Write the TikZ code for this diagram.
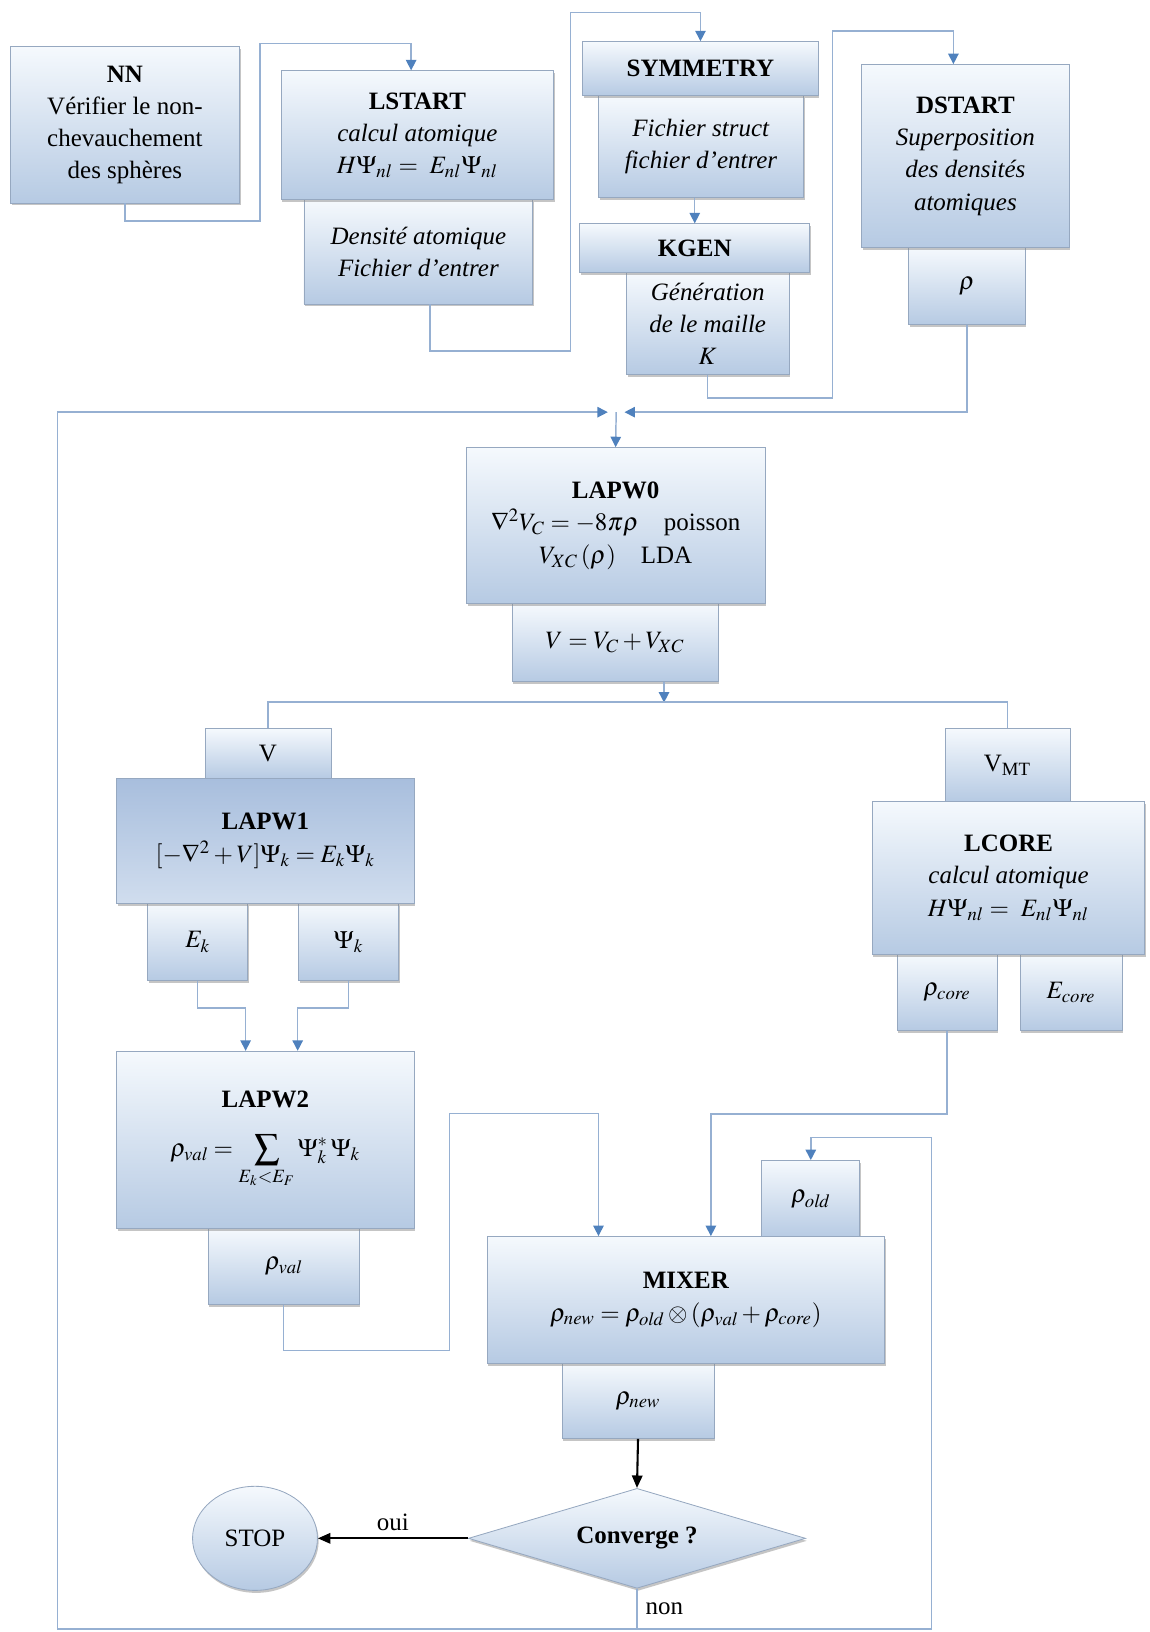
\documentclass[tikz,border=0pt]{standalone}
\usepackage{mathptmx}
\usepackage{fontspec}
\setmainfont{Liberation Serif}
\usepackage{tikz}
\usetikzlibrary{arrows, arrows.meta}
\usetikzlibrary{shapes.geometric, shadows}
\usepackage{amsmath}

\definecolor{bleuclair}{RGB}{245,249,253}
\definecolor{bleufonce}{RGB}{182,202,227}
\definecolor{bleuhaut}{RGB}{168,190,221}
\definecolor{bleubas}{RGB}{208,221,238}
\definecolor{bord}{RGB}{150,168,192}
\definecolor{trait}{RGB}{150,176,210}
\definecolor{pointe}{RGB}{79,129,189}

\begin{document}
\begin{tikzpicture}[x=1pt,y=1pt]
\tikzstyle{every node}+=[font=\fontsize{12}{15.5}\selectfont, align=center, inner sep=0pt]
\tikzstyle{bloc}=[draw=bord, line width=0.4pt, top color=bleuclair, bottom color=bleufonce,
  drop shadow={shadow xshift=0.6pt, shadow yshift=-1.2pt, fill=black!45}]
\tikzstyle{blocfonce}=[bloc, top color=bleuhaut, bottom color=bleubas]
\tikzstyle{ligne}=[draw=trait, line width=0.7pt]
\tikzstyle{fleche}=[ligne, -{Triangle[width=5pt,length=5pt,color=pointe]}]
\tikzstyle{noire}=[draw=black, line width=1pt, -{Triangle[width=5pt,length=6pt]}]
\useasboundingbox (0,0) rectangle (552,-784);

% initialisation
\node[bloc, minimum width=110pt, minimum height=75pt] (nn) at (60,-60)
  {\textbf{NN}\\V\'erifier le non-\\chevauchement\\des sph\`eres};
\node[bloc, minimum width=110pt, minimum height=50pt] (dens) at (201,-121)
  {\textit{Densit\'e atomique}\\\textit{Fichier d'entrer}};
\node[bloc, minimum width=131pt, minimum height=62pt] (lstart) at (200.5,-65)
  {\textbf{LSTART}\\\textit{calcul atomique}\\$H\Psi_{nl} =\ E_{nl}\Psi_{nl}$};
\node[bloc, minimum width=98.5pt, minimum height=49pt] (fich) at (336.75,-70.5)
  {\textit{Fichier struct}\\\textit{fichier d'entrer}};
\node[bloc, minimum width=113pt, minimum height=26pt] (sym) at (336.5,-33) {\textbf{SYMMETRY}};
\node[bloc, minimum width=78pt, minimum height=49pt] (gen) at (340,-155.5)
  {\textit{G\'en\'eration}\\\textit{de le maille}\\$K$};
\node[bloc, minimum width=110.5pt, minimum height=23.5pt] (kgen) at (333.75,-119.25) {\textbf{KGEN}};
\node[bloc, minimum width=56pt, minimum height=37pt] (rho) at (464.5,-137.5) {$\rho$};
\node[bloc, minimum width=99.5pt, minimum height=88pt] (dstart) at (463.75,-75)
  {\textbf{DSTART}\\\textit{Superposition}\\\textit{des densit\'es}\\\textit{atomiques}};

% cycle scf
\node[bloc, minimum width=99pt, minimum height=37.5pt] (vbox) at (295.5,-308.75) {$V = V_C + V_{XC}$};
\node[bloc, minimum width=143.5pt, minimum height=75pt] (lapw0) at (295.75,-252.5)
  {\textbf{LAPW0}\\$\nabla^2V_C = -8\pi\rho$\quad poisson\\$V_{XC}\,(\rho)$\quad LDA};
\node[bloc, minimum width=60.5pt, minimum height=24pt] (v) at (128.75,-362) {V};
\node[bloc, minimum width=48pt, minimum height=37pt] (ek) at (95,-452.5) {$E_k$};
\node[bloc, minimum width=48pt, minimum height=37pt] (psik) at (167.5,-452.5) {$\Psi_k$};
\node[blocfonce, minimum width=143pt, minimum height=60pt] (lapw1) at (127.5,-404)
  {\textbf{LAPW1}\\$[-\nabla^2 + V]\Psi_k = E_k\Psi_k$};
\node[bloc, minimum width=72.5pt, minimum height=36.5pt] (rhoval) at (136.25,-608.25) {$\rho_{\mathit{val}}$};
\node[bloc, minimum width=143pt, minimum height=85pt] (lapw2) at (127.5,-547.5)
  {\textbf{LAPW2}\\[8pt]$\displaystyle\rho_{\mathit{val}} = \sum_{E_k<E_F}\Psi_k^{*}\,\Psi_k$};
\node[bloc, minimum width=60pt, minimum height=35pt] (vmt) at (484,-367.5) {V\textsubscript{MT}};
\node[bloc, minimum width=48pt, minimum height=36.5pt] (rhocore) at (455,-476.75) {$\rho_{\mathit{core}}$};
\node[bloc, minimum width=49pt, minimum height=36.5pt] (ecore) at (514.5,-476.75) {$E_{\mathit{core}}$};
\node[bloc, minimum width=131pt, minimum height=73.5pt] (lcore) at (484.5,-421.75)
  {\textbf{LCORE}\\\textit{calcul atomique}\\$H\Psi_{nl} =\ E_{nl}\Psi_{nl}$};
\node[bloc, minimum width=47pt, minimum height=37.5pt] (rhoold) at (389.5,-576.25) {$\rho_{\mathit{old}}$};
\node[bloc, minimum width=73pt, minimum height=36pt] (rhonew) at (306.5,-673) {$\rho_{\mathit{new}}$};
\node[bloc, minimum width=191pt, minimum height=61pt] (mixer) at (329.5,-624.5)
  {\textbf{MIXER}\\$\rho_{\mathit{new}} = \rho_{\mathit{old}}\otimes(\rho_{\mathit{val}} + \rho_{\mathit{core}})$};
\node[bloc, diamond, aspect=3.4, minimum width=162pt, minimum height=48pt] (conv) at (306,-739)
  {\textbf{Converge ?}};
\node[bloc, ellipse, minimum width=60pt, minimum height=50pt] (stop) at (122.5,-739) {STOP};

% liaisons
\coordinate (jonction) at (296,-198);
\coordinate (split) at (319,-337.5);
\coordinate (coinG) at (27.5,-782.5);
\coordinate (coinD) at (447.5,-782.5);
\draw[fleche] (nn.south) -- ++(0,-8.5) -| (125,-21) -| ([xshift=-3pt]lstart.north);
\draw[fleche] ([xshift=5.5pt]dens.south) -- ++(0,-22.5) -| (274,-6) -| (sym.north);
\draw[fleche] (fich.south -| kgen.north) -- (kgen.north);
\draw[fleche] (gen.south) -- ++(0,-11) -| (400,-15) -| ([xshift=-5.75pt]dstart.north);
\draw[fleche] (rho.south) |- ([xshift=4pt]jonction);
\draw[fleche] (conv.south) |- (coinG) |- ([xshift=-4pt]jonction);
\draw[fleche] (jonction) -- (lapw0.north);
\draw[fleche] (vbox.south -| split) -- (split);
\draw[ligne] (v.north) -- ++(0,12.5) -| (vmt.north);
\draw[fleche] (ek.south) -- ++(0,-13) -| ([xshift=-9.5pt]lapw2.north);
\draw[fleche] (psik.south) -- ++(0,-13) -| ([xshift=15.5pt]lapw2.north);
\draw[fleche] (rhoval.south) -- ++(0,-22) -| (216,-535) -| ([xshift=-42pt]mixer.north);
\draw[fleche] (rhocore.south) -- ++(0,-40) -| ([xshift=12pt]mixer.north);
\draw[fleche] (conv.south) |- (coinD) -- ++(0,236) -| (rhoold.north);
\draw[noire] (rhonew.south) -- (conv.north);
\draw[noire] (conv.west) -- (stop.east) node[midway, above=3pt] (oui) {oui};
\path (conv.south) -- (conv.south |- coinG) node[midway, right=4pt] (non) {non};
\end{tikzpicture}
\end{document}
